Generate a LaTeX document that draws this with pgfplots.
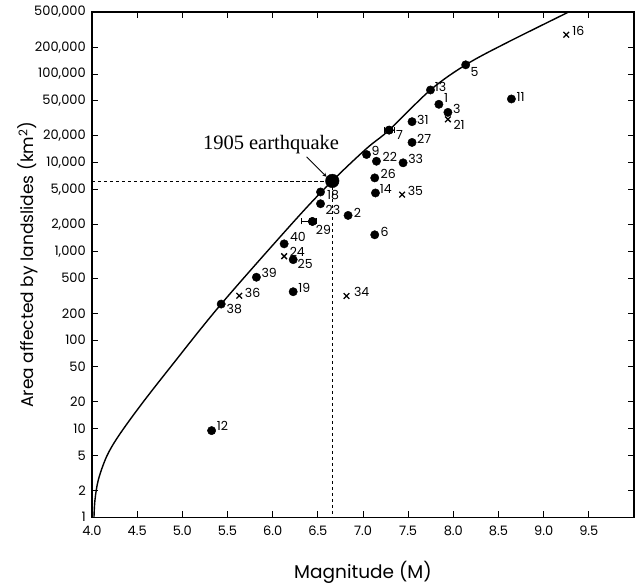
\documentclass[border=0pt]{standalone}
\usepackage{fontspec}
\setmainfont{Poppins}
\newfontfamily\seriffont{Liberation Serif}
\usepackage{pgfplots}
\pgfplotsset{compat=1.18}
\usepackage{pgfplotstable}

% dots: magnitude, area (km2), label, label offsets (pt)
\pgfplotstableread{
M A lab dx dy
7.84 45500 1 5 6
6.835 2540 2 5.7 3
7.94 36900 3 5 3.3
8.137 126800 5 4.7 -7.3
7.13 1535 6 5.7 2.7
7.289 23280 7 6.7 -5
7.039 12350 9 5 4
8.643 52240 11 5 2
5.324 9.5 12 5 4.3
7.747 66000 13 4.3 2.7
7.138 4550 14 4.3 3.7
6.53 4670 18 6.3 -3.3
6.227 350 19 5 4.3
7.149 10370 22 6 4.3
6.53 3440 23 5 -6
6.227 805 25 4.3 -4
7.13 6730 26 5.7 3.7
7.543 16900 27 5 4
6.44 2170 29 3.3 -8.3
7.543 28970 31 5 2
7.444 9950 33 5 4
5.43 254 38 5.3 -5.3
5.82 510 39 5 4.3
6.127 1213 40 5.7 7
}\dots

% crosses
\pgfplotstableread{
M A lab dx dy
9.25 277000 16 5.5 4
7.94 30800 21 5 -5.7
6.127 880 24 5 4.3
6.817 313 34 7 4.3
7.433 4350 35 5 3.3
5.63 315 36 5 3.3
}\crosses

% horizontal error bars
\pgfplotstableread{
M A em ep
6.44 2170 0.12 0.045
7.289 23280 0.055 0.055
}\errs

\begin{document}
\begin{tikzpicture}
\begin{axis}[
  scale only axis,
  width=542pt, height=505.3pt,
  xmin=4, xmax=10,
  ymode=log, ymin=1, ymax=500000,
  log basis y=10,
  xtick={4,4.5,5,5.5,6,6.5,7,7.5,8,8.5,9,9.5},
  xticklabels={4.0,4.5,5.0,5.5,6.0,6.5,7.0,7.5,8.0,8.5,9.0,9.5},
  ytick={1,2,5,10,20,50,100,200,500,1000,2000,5000,10000,20000,50000,100000,200000,500000},
  yticklabels={1,2,5,10,20,50,100,200,500,{1,000},{2,000},{5,000},{10,000},{20,000},{50,000},{100,000},{200,000},{500,000}},
  minor ytick={},
  tick align=inside,
  tick pos=both,
  xticklabel pos=bottom,
  yticklabel pos=left,
  major tick length=6pt,
  tick style={black, line width=0.9pt},
  axis line style={line width=1.2pt},
  ticklabel style={font=\fontsize{13}{15}\selectfont},
  xticklabel style={anchor=center, inner sep=0pt, yshift=-13.7pt},
  yticklabel style={anchor=east, inner sep=0pt, xshift=-6pt},
  xlabel={Magnitude (M)},
  ylabel={Area affected by landslides (km\textsuperscript{2})},
  xlabel style={at={(axis description cs:0.5,-0.1083)}, anchor=center, font=\fontsize{18.5}{21}\selectfont},
  ylabel style={at={(axis description cs:-0.1181,0.5)}, anchor=center, font=\fontsize{17}{20}\selectfont},
  clip=true,
]
\coordinate (bl) at (rel axis cs:0,0);

% curve
\addplot[black, line width=1.4pt, smooth, tension=0.55] coordinates {
 (4.022,1) (4.033,1.57) (4.07,2.64) (4.162,4.85) (4.291,8.18) (4.531,17.9)
 (4.863,48.6) (5.43,254) (6.264,2339) (6.66,6220) (7.04,14454) (7.289,23280)
 (7.747,66070) (8.137,126800) (8.587,223900) (9.36,550000)
};

% dashed guides to the 1905 earthquake
\addplot[black, line width=0.8pt, dash pattern=on 3.5pt off 2.5pt] coordinates {(4,6220) (6.66,6220)};
\addplot[black, line width=0.8pt, dash pattern=on 3.5pt off 2.5pt] coordinates {(6.66,6220) (6.66,1)};

% error bars
\addplot[black, only marks, mark=*, mark size=4pt,
  error bars/.cd, x dir=both, x explicit, error mark=|,
  error bar style={line width=0.9pt}, error mark options={mark size=3pt, line width=0.9pt}]
  table[x=M, y=A, x error plus=ep, x error minus=em] {\errs};

% dots
\addplot[black, only marks, mark=*, mark size=4.2pt,
  point meta=explicit symbolic,
  visualization depends on={\thisrow{dx}\as\lblx},
  visualization depends on={\thisrow{dy}\as\lbly},
  nodes near coords,
  nodes near coords style={anchor=west, inner sep=0pt, xshift=\lblx pt, yshift=\lbly pt, font=\fontsize{12.5}{14}\selectfont, text=black}]
  table[x=M, y=A, meta=lab] {\dots};

% crosses
\addplot[black, only marks, mark=x, mark size=4pt, line width=1.3pt,
  point meta=explicit symbolic,
  visualization depends on={\thisrow{dx}\as\lblx},
  visualization depends on={\thisrow{dy}\as\lbly},
  nodes near coords,
  nodes near coords style={anchor=west, inner sep=0pt, xshift=\lblx pt, yshift=\lbly pt, font=\fontsize{12.5}{14}\selectfont, text=black}]
  table[x=M, y=A, meta=lab] {\crosses};

% 1905 earthquake
\addplot[black, only marks, mark=*, mark size=6.8pt] coordinates {(6.66,6220)};

\node[anchor=base, inner sep=0pt, font=\seriffont\fontsize{20.5}{24}\selectfont] at (axis cs:5.982,14130) {1905 earthquake};
\draw[->, >=stealth, line width=0.8pt] (axis cs:6.375,11640) -- (axis cs:6.597,6920);
\end{axis}
\pgfresetboundingbox
\path (bl) ++(-92pt,-66.7pt) rectangle ++(641pt,584pt);
\end{tikzpicture}
\end{document}
